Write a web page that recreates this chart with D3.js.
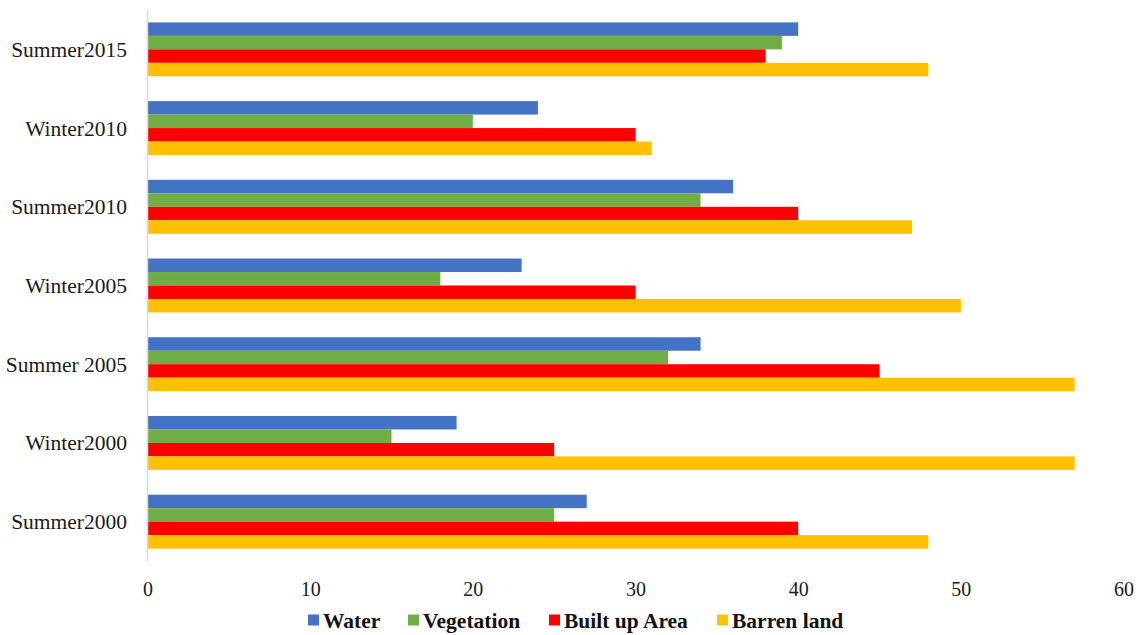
<!DOCTYPE html>
<html>
<head>
<meta charset="utf-8">
<script src="https://cdn.jsdelivr.net/npm/d3@7/dist/d3.min.js"></script>
<style>
  html, body { margin: 0; padding: 0; background: #fff; }
  svg { display: block; }
</style>
</head>
<body>
<svg id="chart" width="1143" height="635"></svg>
<script>
// Land-cover shares per season/year
const categories = ["Summer2015", "Winter2010", "Summer2010", "Winter2005", "Summer 2005", "Winter2000", "Summer2000"];
const seriesNames = ["Water", "Vegetation", "Built up Area", "Barren land"];
const water      = [40, 24, 36, 23, 34, 19, 27];
const vegetation = [39, 20, 34, 18, 32, 15, 25];
const builtUp    = [38, 30, 40, 30, 45, 25, 40];
const barren     = [48, 31, 47, 50, 57, 57, 48];
const xTicks = [0, 10, 20, 30, 40, 50, 60];
const colors = ["#4472C4", "#70AD47", "#FF0000", "#FFC000"];

(function () {
  const seriesValues = [water, vegetation, builtUp, barren];
  const rows = categories.map((c, i) => ({
    category: c,
    values: seriesNames.map((s, j) => ({ key: s, value: seriesValues[j][i], idx: j }))
  }));

  const svg = d3.select("#chart");
  const plotLeft = 147.5, plotRight = 1123.5, plotTop = 10, plotBottom = 561;
  const serif = "'Liberation Serif', 'Times New Roman', serif";

  const x = d3.scaleLinear().domain([0, 60]).range([plotLeft, plotRight]);
  const y = d3.scaleBand().domain(categories).range([plotTop, plotBottom]).paddingInner(0.315).paddingOuter(0.1575);
  const ySub = d3.scaleBand().domain(seriesNames).range([0, y.bandwidth()]);

  // Bars
  const groups = svg.append("g").selectAll("g").data(rows).join("g")
    .attr("transform", d => `translate(0,${y(d.category)})`);
  groups.selectAll("rect").data(d => d.values).join("rect")
    .attr("x", x(0))
    .attr("y", d => ySub(d.key))
    .attr("width", d => x(d.value) - x(0))
    .attr("height", ySub.bandwidth())
    .attr("fill", d => colors[d.idx]);

  // Vertical category axis line
  svg.append("line")
    .attr("x1", x(0)).attr("x2", x(0))
    .attr("y1", plotTop).attr("y2", plotBottom)
    .attr("stroke", "#d9d9d9").attr("stroke-width", 1.5);

  // Category labels
  svg.append("g").selectAll("text").data(categories).join("text")
    .attr("x", 127)
    .attr("y", d => y(d) + y.bandwidth() / 2)
    .attr("dy", "0.35em")
    .attr("text-anchor", "end")
    .attr("font-family", serif)
    .attr("font-size", 21.5)
    .attr("fill", "#1a1a1a")
    .text(d => d);

  // Value axis (labels only)
  const xAxis = svg.append("g")
    .attr("transform", `translate(0,${plotBottom})`)
    .call(d3.axisBottom(x).tickValues(xTicks).tickSize(0).tickPadding(21));
  xAxis.select(".domain").remove();
  xAxis.selectAll("text")
    .attr("font-family", serif)
    .attr("font-size", 20)
    .attr("fill", "#1a1a1a");

  // Legend
  const legendX = [308, 408, 549, 717];
  const legend = svg.append("g").selectAll("g").data(seriesNames).join("g")
    .attr("transform", (d, i) => `translate(${legendX[i]},620)`);
  legend.append("rect")
    .attr("x", 0).attr("y", -5.5).attr("width", 11).attr("height", 11)
    .attr("fill", (d, i) => colors[i]);
  legend.append("text")
    .attr("x", 15).attr("dy", "0.35em")
    .attr("font-family", serif)
    .attr("font-size", 21.5).attr("font-weight", "bold")
    .attr("fill", "#111")
    .text(d => d);
})();
</script>
</body>
</html>
